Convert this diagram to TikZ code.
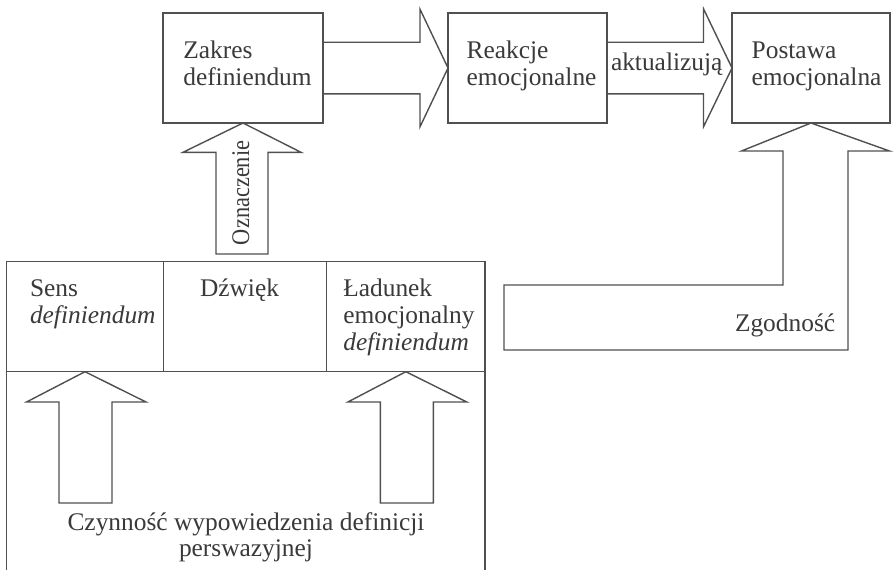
\documentclass[tikz,border=0pt]{standalone}
\usepackage{fontspec}
\setmainfont{Liberation Serif}
\usetikzlibrary{calc}
\definecolor{ln}{HTML}{505050}
\definecolor{tx}{HTML}{3A3A3A}
\begin{document}
\begin{tikzpicture}[x=0.5pt,y=-0.5pt,
  every node/.style={inner sep=0pt, outer sep=0pt},
  box/.style={draw=ln, line width=0.7pt},
  lbl/.style={text=tx, font=\fontsize{12.7pt}{13.35pt}\selectfont, anchor=base west, align=left},
  fat/.style={draw=ln, line width=0.7pt, line join=miter}]
\useasboundingbox (0,0) rectangle (894,569);
\fill[white] (0,0) rectangle (894,569);
\clip (0,0) rectangle (894,569);

% top boxes
\node[box, minimum width=80pt, minimum height=55pt] (zakres) at (243,68) {};
\node[box, minimum width=79.5pt, minimum height=55pt] (reakcje) at (527.5,68) {};
\node[box, minimum width=79pt, minimum height=55pt] (postawa) at (811,68) {};

% bottom big box and cells
\node[box, minimum width=239.15pt, minimum height=156.65pt] (outer) at (245.85,418.35) {};
\node[box, minimum width=78.3pt, minimum height=55pt] (sens) at (85,316.7) {};
\node[box, minimum width=81.7pt, minimum height=55pt] (dzwiek) at (245,316.7) {};
\node[box, minimum width=79.15pt, minimum height=55pt] (ladunek) at (405.85,316.7) {};

% texts (base anchor = baseline of last line)
\node[lbl] (tzakres) at (183.3,85) {Zakres\\definiendum};
\node[lbl] (treakcje) at (466.7,85) {Reakcje\\emocjonalne};
\node[lbl] (tpostawa) at (751.7,85) {Postawa\\emocjonalna};
\node[lbl] (tsens) at (30,323.4) {Sens\\\textit{definiendum}};
\node[lbl] (tdzwiek) at (200,296.7) {Dźwięk};
\node[lbl] (tladunek) at (343.3,350.1) {Ładunek\\emocjonalny\\\textit{definiendum}};
\node[lbl, anchor=base, align=center] (tczyn) at (246,556.7) {Czynność wypowiedzenia definicji\\perswazyjnej};

% arrow Zakres -> Reakcje
\draw[fat] (zakres.east) ++(0,-25.8) -- ++(97,0) -- ++(0,-33) -- (reakcje.west)
  -- ++(-28,58.8) -- ++(0,-33) -- ++(-97,0);
% arrow Reakcje -> Postawa
\draw[fat] (reakcje.east) ++(0,-25.8) -- ++(96.5,0) -- ++(0,-33.4) -- (postawa.west)
  -- ++(-28.5,58.8) -- ++(0,-33) -- ++(-96.5,0);
\node[lbl] (takt) at (611,70) {aktualizują};

% Oznaczenie arrow
\draw[fat] (zakres.south) -- ++(-60,29.3) -- ++(33,0) -- ++(0,101.7) -- ++(52,0)
  -- ++(0,-101.7) -- ++(33,0) -- cycle;
\node[lbl, rotate=90] (toznacz) at (249,245) {\scalebox{0.88}[1]{Oznaczenie}};

% bottom arrows
\draw[fat] (sens.south) -- ++(-58.5,30.3) -- ++(32.5,0) -- ++(0,101) -- ++(53,0)
  -- ++(0,-101) -- ++(34,0) -- cycle;
\draw[fat] (ladunek.south) -- ++(-58,30.3) -- ++(32.5,0) -- ++(0,101) -- ++(53,0)
  -- ++(0,-101) -- ++(33.5,0) -- cycle;

% Zgodnosc arrow
\draw[fat] (postawa.south) -- ++(-69.5,28) -- ++(41.5,0) -- ++(0,134) -- ++(-279,0)
  -- ++(0,65) -- ++(344,0) -- ++(0,-199) -- ++(41.5,0) -- cycle;
\node[lbl] (tzgod) at (735,331.5) {Zgodność};
\end{tikzpicture}
\end{document}
